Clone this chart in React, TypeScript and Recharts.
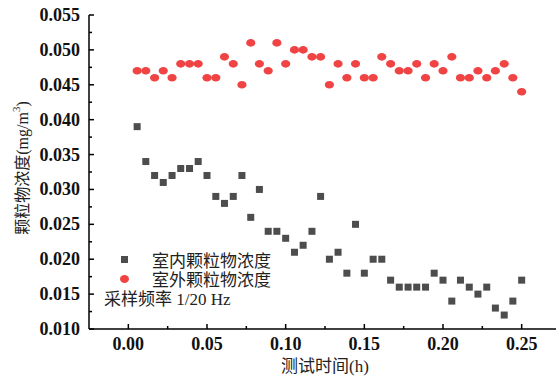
import {
  Legend,
  Scatter,
  ScatterChart,
  XAxis,
  YAxis,
} from "recharts";

// sampling at 1/20 Hz -> one reading every 20 s (h)
const TIMES = [
  0.0056, 0.0111, 0.0167, 0.0222, 0.0278, 0.0333, 0.0389, 0.0444, 0.05,
  0.0556, 0.0611, 0.0667, 0.0722, 0.0778, 0.0833, 0.0889, 0.0944, 0.1,
  0.1056, 0.1111, 0.1167, 0.1222, 0.1278, 0.1333, 0.1389, 0.1444, 0.15,
  0.1556, 0.1611, 0.1667, 0.1722, 0.1778, 0.1833, 0.1889, 0.1944, 0.2,
  0.2056, 0.2111, 0.2167, 0.2222, 0.2278, 0.2333, 0.2389, 0.2444, 0.25,
];

const INDOOR = [
  0.039, 0.034, 0.032, 0.031, 0.032, 0.033, 0.033, 0.034, 0.032, 0.029,
  0.028, 0.029, 0.032, 0.026, 0.03, 0.024, 0.024, 0.023, 0.021, 0.022,
  0.024, 0.029, 0.02, 0.021, 0.018, 0.025, 0.018, 0.02, 0.02, 0.017,
  0.016, 0.016, 0.016, 0.016, 0.018, 0.017, 0.014, 0.017, 0.016, 0.015,
  0.016, 0.013, 0.012, 0.014, 0.017,
];

const OUTDOOR = [
  0.047, 0.047, 0.046, 0.047, 0.046, 0.048, 0.048, 0.048, 0.046, 0.046,
  0.049, 0.048, 0.045, 0.051, 0.048, 0.047, 0.051, 0.048, 0.05, 0.05,
  0.049, 0.049, 0.045, 0.048, 0.046, 0.048, 0.046, 0.046, 0.049, 0.048,
  0.047, 0.047, 0.048, 0.046, 0.048, 0.047, 0.049, 0.046, 0.046, 0.047,
  0.046, 0.047, 0.048, 0.046, 0.044,
];

const X_MAJOR = [0, 0.05, 0.1, 0.15, 0.2, 0.25];
const X_MINOR = [0.025, 0.075, 0.125, 0.175, 0.225];
const Y_MAJOR = [0.01, 0.015, 0.02, 0.025, 0.03, 0.035, 0.04, 0.045, 0.05, 0.055];
const Y_MINOR = [0.0125, 0.0175, 0.0225, 0.0275, 0.0325, 0.0375, 0.0425, 0.0475, 0.0525];

const indoorData = TIMES.map((t, i) => ({ t, v: INDOOR[i] }));
const outdoorData = TIMES.map((t, i) => ({ t, v: OUTDOOR[i] }));

const GRAY = "#4d4d4d";
const RED = "#f04343";
const SERIF = "'Liberation Serif', 'Times New Roman', serif";
const CJK = "'Liberation Serif', 'Noto Sans CJK SC', serif";

function XTick({ x, y, payload }: any) {
  const major = X_MAJOR.includes(payload.value);
  return (
    <g>
      <line x1={x} x2={x} y1={y} y2={y - (major ? 5 : 3)} stroke="#000" strokeWidth={1.5} />
      {major && (
        <text x={x} y={y + 21} textAnchor="middle" fontFamily={SERIF} fontWeight="bold" fontSize={18} fill="#111">
          {payload.value.toFixed(2)}
        </text>
      )}
    </g>
  );
}

function YTick({ x, y, payload }: any) {
  const major = Y_MAJOR.includes(payload.value);
  return (
    <g>
      <line x1={x} x2={x + (major ? 5 : 3)} y1={y} y2={y} stroke="#000" strokeWidth={1.5} />
      {major && (
        <text x={x - 9} y={y + 6} textAnchor="end" fontFamily={SERIF} fontWeight="bold" fontSize={18} fill="#111">
          {payload.value.toFixed(3)}
        </text>
      )}
    </g>
  );
}

const Square = ({ cx, cy }: any) => (
  <rect x={cx - 3.5} y={cy - 3.5} width={7} height={7} fill={GRAY} />
);
const Dot = ({ cx, cy }: any) => <ellipse cx={cx} cy={cy} rx={4.6} ry={3.8} fill={RED} />;

function LegendBox() {
  const row = { display: "flex", alignItems: "center", height: 19, fontFamily: CJK, fontSize: 17, color: "#222" } as const;
  return (
    <div style={{ whiteSpace: "nowrap" }}>
      <div style={row}>
        <span style={{ width: 7, height: 7, background: GRAY, marginLeft: 17, marginRight: 24 }} />
        室内颗粒物浓度
      </div>
      <div style={row}>
        <span style={{ width: 9, height: 8, borderRadius: "50%", background: RED, marginLeft: 16, marginRight: 23 }} />
        室外颗粒物浓度
      </div>
      <div style={row}>采样频率 1/20 Hz</div>
    </div>
  );
}

export default function App() {
  return (
    <div style={{ position: "absolute", left: 0, top: 0, width: 556, height: 379, overflow: "hidden", background: "#fff" }}>
      <ScatterChart width={580} height={379} margin={{ top: 15, right: 19, bottom: 0, left: 0 }}>
        <XAxis
          dataKey="t"
          type="number"
          domain={[-0.025, 0.275]}
          ticks={[...X_MAJOR, ...X_MINOR]}
          tick={<XTick />}
          tickLine={false}
          tickSize={0}
          tickMargin={0}
          height={50}
          interval={0}
          axisLine={{ stroke: "#000", strokeWidth: 1.5 }}
          label={{
            content: () => (
              <text x={325} y={372} textAnchor="middle" fontFamily={CJK} fontSize={17} fill="#222">
                测试时间(h)
              </text>
            ),
          }}
        />
        <XAxis
          xAxisId="top"
          orientation="top"
          type="number"
          domain={[-0.025, 0.275]}
          tick={false}
          tickLine={false}
          height={0}
          axisLine={{ stroke: "#000", strokeWidth: 1.5 }}
        />
        <YAxis
          dataKey="v"
          type="number"
          domain={[0.01, 0.055]}
          ticks={[...Y_MAJOR, ...Y_MINOR]}
          tick={<YTick />}
          tickLine={false}
          tickSize={0}
          tickMargin={0}
          width={89}
          interval={0}
          axisLine={{ stroke: "#000", strokeWidth: 1.5 }}
          label={{
            content: () => (
              <text
                x={22}
                y={168}
                transform="rotate(-90, 22, 168)"
                textAnchor="middle"
                dominantBaseline="central"
                fontFamily={CJK}
                fontSize={16}
                fill="#222"
              >
                颗粒物浓度(mg/m<tspan dy={-6} fontSize={11}>3</tspan>
                <tspan dy={6}>)</tspan>
              </text>
            ),
          }}
        />
        <Scatter name="室内颗粒物浓度" data={indoorData} shape={<Square />} isAnimationActive={false} />
        <Scatter name="室外颗粒物浓度" data={outdoorData} shape={<Dot />} isAnimationActive={false} />
        <Legend
          layout="vertical"
          align="center"
          verticalAlign="middle"
          content={() => <LegendBox />}
          wrapperStyle={{ left: 104, top: 250, width: "auto", height: "auto" }}
        />
      </ScatterChart>
    </div>
  );
}
